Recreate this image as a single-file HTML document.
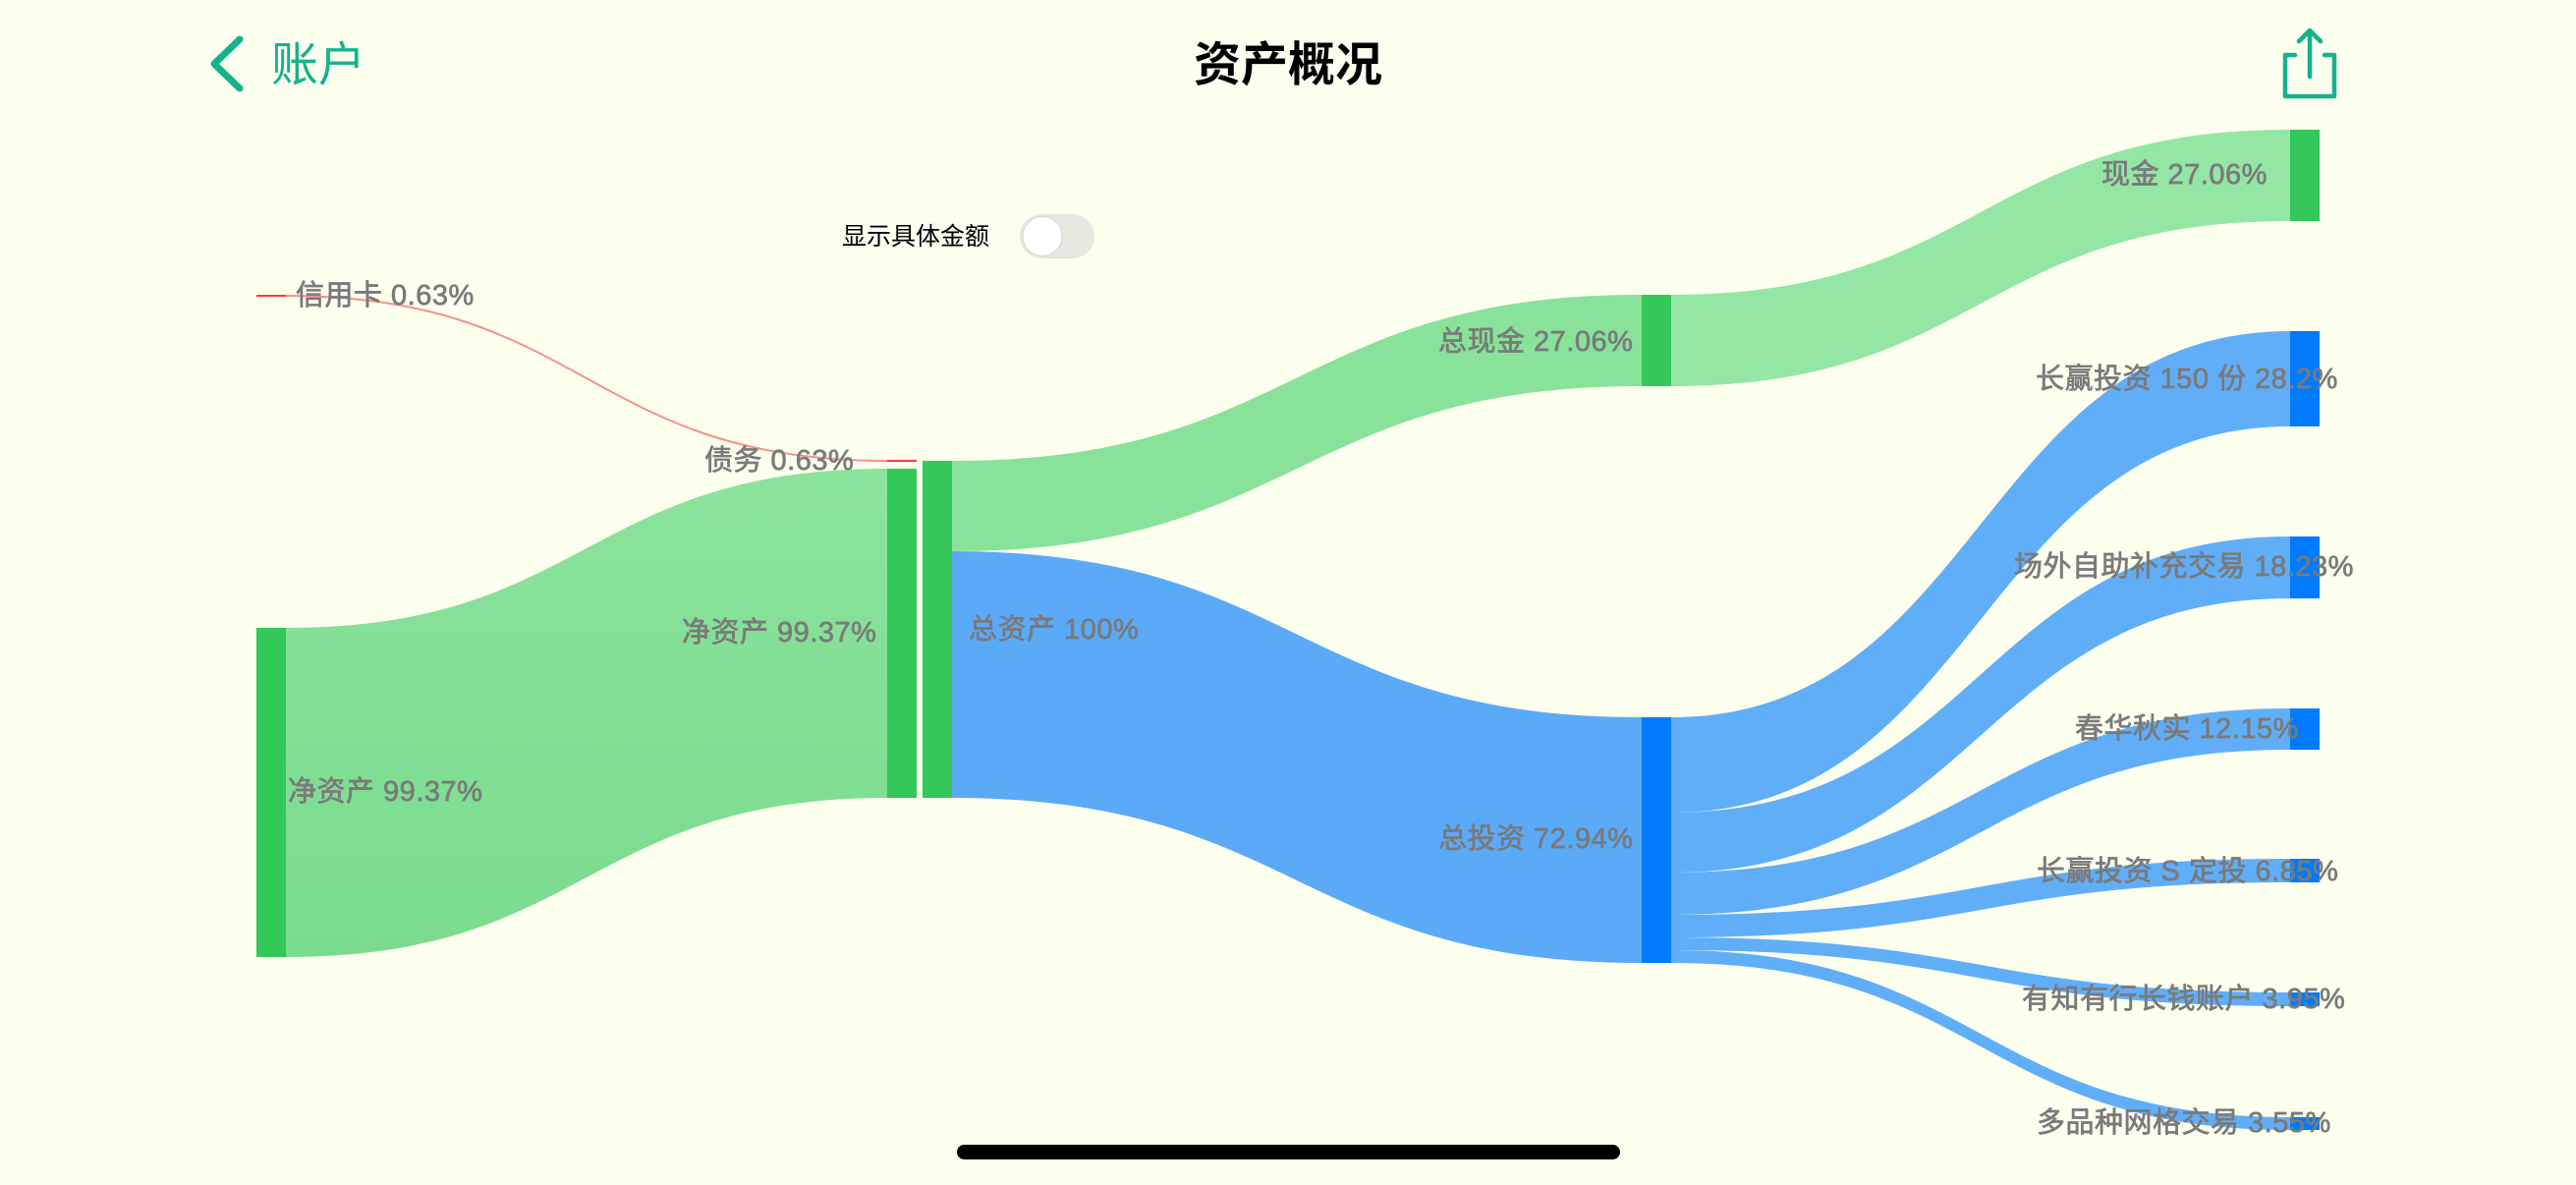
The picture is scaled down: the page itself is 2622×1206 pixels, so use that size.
<!DOCTYPE html>
<html><head><meta charset="utf-8"><style>
html,body{margin:0;padding:0;background:#fcfeee;}
svg{display:block}
text{font-family:"Liberation Sans","Noto Sans CJK SC",sans-serif;}
</style></head><body>
<svg width="2622" height="1206" viewBox="0 0 2622 1206" xmlns="http://www.w3.org/2000/svg">
<rect width="2622" height="1206" fill="#fcfeee"/>
<defs>
<linearGradient id="g1" x1="0" y1="0" x2="0" y2="1"><stop offset="0" stop-color="#8be39c"/><stop offset="1" stop-color="#7adb8e"/></linearGradient>
</defs>
<polyline points="244,40 218,65 244,90" fill="none" stroke="#12b38d" stroke-width="7" stroke-linecap="round" stroke-linejoin="round"/>
<text x="276" y="82" font-size="48" fill="#12b38d">账户</text>
<text x="1311" y="82" font-size="48" font-weight="bold" text-anchor="middle" fill="#000">资产概况</text>
<g fill="none" stroke="#12b38d" stroke-width="4.5" stroke-linecap="round" stroke-linejoin="round">
<path d="M2336,56 H2326 V98 H2376 V56 H2366"/>
<path d="M2351,78 V31 M2340,42 L2351,31 L2362,42"/>
</g>
<text x="857" y="249" font-size="25" fill="#000">显示具体金额</text>
<rect x="1038" y="218" width="76" height="45" rx="22.5" fill="#e6e7df"/>
<circle cx="1061" cy="240.5" r="20" fill="#fff" stroke="#d8d8d0" stroke-width="1"/>
<path d="M291,639 C597,639 597,477 903,477 L903,812 C597,812 597,974 291,974 Z" fill="url(#g1)"/>
<path d="M291,301 C597,301 597,469 903,469" fill="none" stroke="#f7908a" stroke-width="2"/>
<path d="M969,469 C1320,469 1320,300 1671,300 L1671,393 C1320,393 1320,561 969,561 Z" fill="#88e29a"/>
<path d="M969,561 C1320,561 1320,730 1671,730 L1671,980 C1320,980 1320,812 969,812 Z" fill="#5aaaf8"/>
<path d="M1701,300 C2016,300 2016,132 2331,132 L2331,225 C2016,225 2016,393 1701,393 Z" fill="#93e6a3"/>
<g fill="#60aef8">
<path d="M1701,730 C2016,730 2016,337 2331,337 L2331,434 C2016,434 2016,827 1701,827 Z"/>
<path d="M1701,827 C2016,827 2016,546 2331,546 L2331,609 C2016,609 2016,888 1701,888 Z"/>
<path d="M1701,888 C2016,888 2016,721 2331,721 L2331,763 C2016,763 2016,931 1701,931 Z"/>
<path d="M1701,931 C2016,931 2016,874 2331,874 L2331,898 C2016,898 2016,954 1701,954 Z"/>
<path d="M1701,954 C2016,954 2016,1010 2331,1010 L2331,1024 C2016,1024 2016,967 1701,967 Z"/>
<path d="M1701,967 C2016,967 2016,1137 2331,1137 L2331,1150 C2016,1150 2016,980 1701,980 Z"/>
</g>
<rect x="261" y="639" width="30" height="335" fill="#34c759"/>
<rect x="261" y="300" width="30" height="2" fill="#ff3b30"/>
<rect x="903" y="477" width="30" height="335" fill="#34c759"/>
<rect x="903" y="468" width="30" height="2" fill="#ff3b30"/>
<rect x="939" y="469" width="30" height="343" fill="#34c759"/>
<rect x="1671" y="300" width="30" height="93" fill="#34c759"/>
<rect x="1671" y="730" width="30" height="250" fill="#007aff"/>
<rect x="2331" y="132" width="30" height="93" fill="#34c759"/>
<g fill="#007aff">
<rect x="2331" y="337" width="30" height="97"/>
<rect x="2331" y="546" width="30" height="63"/>
<rect x="2331" y="721" width="30" height="42"/>
<rect x="2331" y="874" width="30" height="24"/>
<rect x="2331" y="1010" width="30" height="14"/>
<rect x="2331" y="1137" width="30" height="13"/>
</g>
<g font-size="29" fill="#7a7a7a" stroke="#7a7a7a" stroke-width="0.7" letter-spacing="0.5" dominant-baseline="central">
<text x="301" y="301">信用卡 0.63%</text>
<text x="717" y="469">债务 0.63%</text>
<text x="694" y="644">净资产 99.37%</text>
<text x="293" y="806">净资产 99.37%</text>
<text x="986" y="641">总资产 100%</text>
<text x="1464" y="348">总现金 27.06%</text>
<text x="1464" y="854">总投资 72.94%</text>
<text x="2139" y="178">现金 27.06%</text>
<text x="2072" y="386">长赢投资 150 份 28.2%</text>
<text x="2050" y="577">场外自助补充交易 18.23%</text>
<text x="2112" y="742">春华秋实 12.15%</text>
<text x="2073" y="887">长赢投资 S 定投 6.85%</text>
<text x="2058" y="1017">有知有行长钱账户 3.95%</text>
<text x="2073" y="1143">多品种网格交易 3.55%</text>
</g>
<rect x="974" y="1165" width="675" height="15" rx="7.5" fill="#000"/>
</svg>
</body></html>
